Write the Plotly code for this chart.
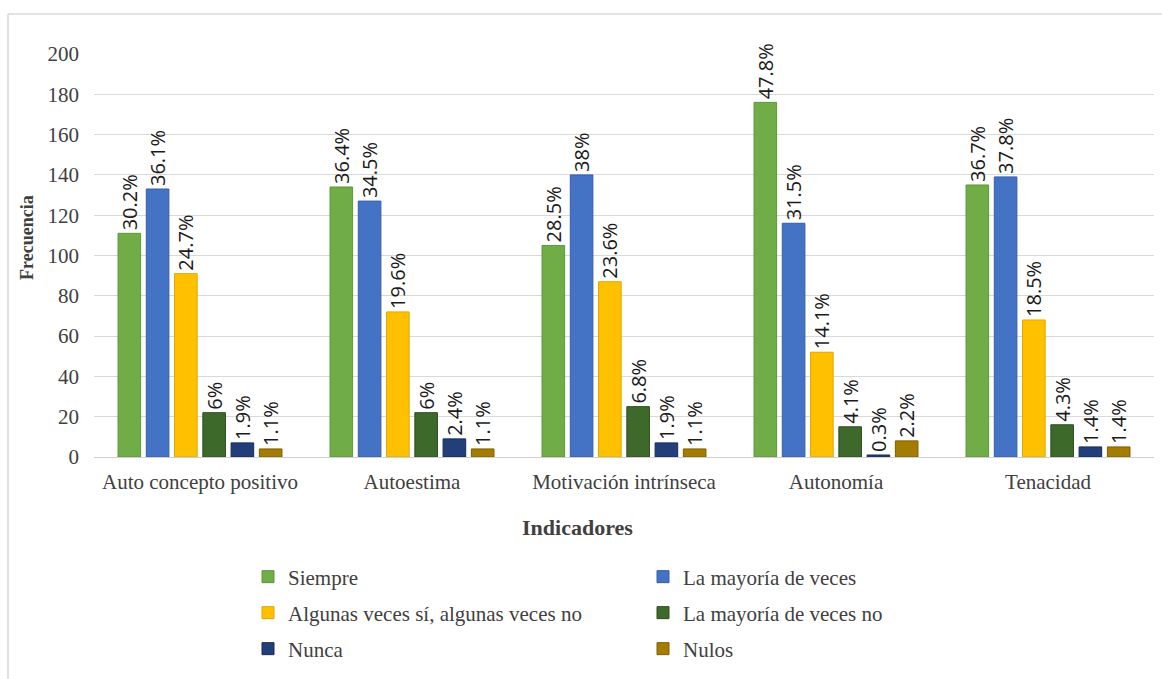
import plotly.graph_objects as go

# Indicadores evaluados y frecuencia de cada respuesta (n = 368 por indicador)
categories = ["Auto concepto positivo", "Autoestima", "Motivación intrínseca",
              "Autonomía", "Tenacidad"]
siempre = [111, 134, 105, 176, 135]
mayoria = [133, 127, 140, 116, 139]
algunas = [91, 72, 87, 52, 68]
mayoria_no = [22, 22, 25, 15, 16]
nunca = [7, 9, 7, 1, 5]
nulos = [4, 4, 4, 8, 5]
total = 368

y_ticks = [0, 20, 40, 60, 80, 100, 120, 140, 160, 180, 200]

series = [
    ("Siempre", siempre, "#70AD47", "#5E9639", "legend"),
    ("La mayoría de veces", mayoria, "#4472C4", "#365FA8", "legend"),
    ("Algunas veces sí, algunas veces no", algunas, "#FFC000", "#E0A800", "legend2"),
    ("La mayoría de veces no", mayoria_no, "#3D6A2A", "#2C4F1E", "legend2"),
    ("Nunca", nunca, "#223F7A", "#172C58", "legend3"),
    ("Nulos", nulos, "#A47C00", "#7F6000", "legend3"),
]

SERIF = "Liberation Serif"
LABEL_FONT = dict(family="Open Sans", size=20, color="#1a1a1a")


def pct_label(v):
    p = round(v / total * 100, 1)
    s = f"{p:.1f}"
    if s.endswith(".0"):
        s = s[:-2]
    return s + "%"


fig = go.Figure()
for name, vals, color, edge, leg in series:
    fig.add_trace(go.Bar(
        name=name,
        x=categories,
        y=vals,
        marker=dict(color=color, line=dict(color=edge, width=1)),
        text=[pct_label(v) for v in vals],
        textposition="outside",
        textangle=-90,
        constraintext="none",
        cliponaxis=False,
        outsidetextfont=LABEL_FONT,
        legend=leg,
    ))

W, H = 1162, 679
L, R, T, B = 94, 8, 54, 222
pw, ph = W - L - R, H - T - B


def px_x(x):
    return (x - L) / pw


def px_y(y):
    return (H - B - y) / ph


legend_common = dict(
    orientation="h",
    xanchor="left",
    yanchor="middle",
    x=px_x(248),
    entrywidth=350,
    font=dict(family=SERIF, size=21, color="#404040"),
    bgcolor="rgba(0,0,0,0)",
)

fig.update_layout(
    width=W, height=H,
    margin=dict(l=L, r=R, t=T, b=B),
    font=dict(family=SERIF, size=21, color="#404040"),
    paper_bgcolor="white",
    plot_bgcolor="white",
    barmode="group",
    bargap=0.2,
    bargroupgap=0.2,
    showlegend=True,
    legend=dict(legend_common, y=px_y(577)),
    legend2=dict(legend_common, y=px_y(613)),
    legend3=dict(legend_common, y=px_y(649)),
    xaxis=dict(
        showgrid=False,
        showline=False,
        ticks="",
        ticklabelstandoff=10,
        tickfont=dict(family=SERIF, size=21, color="#404040"),
    ),
    yaxis=dict(
        range=[0, 200],
        tickvals=y_ticks,
        showgrid=True,
        gridcolor="#D9D9D9",
        gridwidth=1,
        zeroline=True,
        zerolinecolor="#D0D0D0",
        zerolinewidth=1,
        showline=False,
        ticks="",
        ticklabelstandoff=14,
        tickfont=dict(family=SERIF, size=21, color="#404040"),
    ),
    annotations=[
        dict(text="<b>Indicadores</b>", xref="paper", yref="paper",
             x=px_x(577), y=px_y(527), xanchor="center", yanchor="middle",
             showarrow=False,
             font=dict(family=SERIF, size=22, color="#404040")),
        dict(text="<b>Frecuencia</b>", xref="paper", yref="paper",
             x=px_x(27), y=px_y(238), xanchor="center", yanchor="middle",
             textangle=-90, showarrow=False,
             font=dict(family=SERIF, size=18, color="#404040")),
    ],
    shapes=[
        dict(type="line", xref="paper", yref="paper",
             x0=px_x(8), x1=px_x(8), y0=px_y(14), y1=px_y(H + 5),
             line=dict(color="#D9D9D9", width=1.5)),
        dict(type="line", xref="paper", yref="paper",
             x0=px_x(8), x1=px_x(W + 5), y0=px_y(14), y1=px_y(14),
             line=dict(color="#D9D9D9", width=1.5)),
    ],
)

fig.write_html("out.html")
